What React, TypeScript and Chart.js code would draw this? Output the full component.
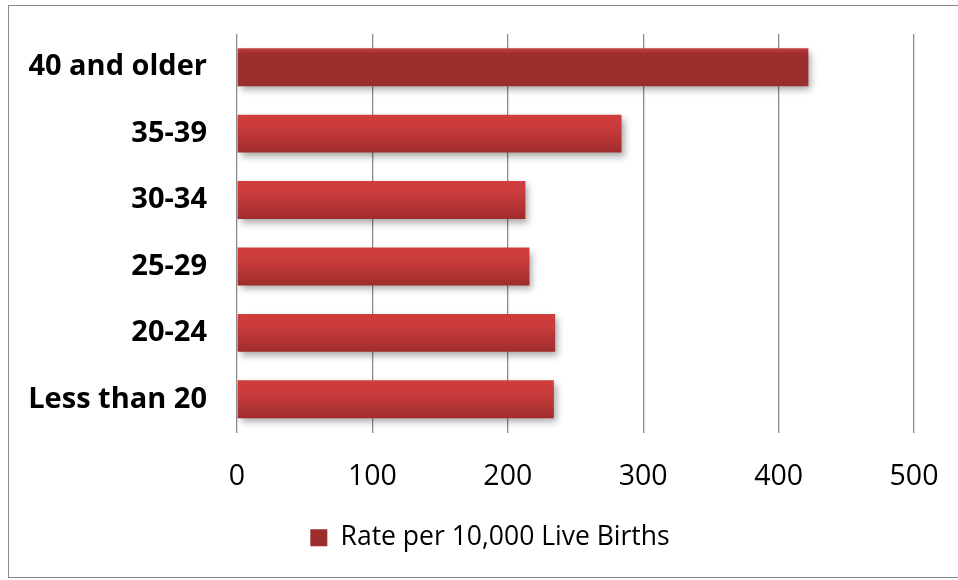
import React, { useEffect, useRef } from "react";
import { Chart, registerables } from "chart.js";

Chart.register(...registerables);

const categories = ["40 and older", "35-39", "30-34", "25-29", "20-24", "Less than 20"];
const rates = [422, 284, 213, 216, 235, 234];
const xTickValues = [0, 100, 200, 300, 400, 500];
const seriesLabel = "Rate per 10,000 Live Births";

const BAR_PCT = 0.57;

const barFill = (ctx: any) => {
  const chart = ctx.chart;
  const i = ctx.dataIndex;
  if (i === undefined || !chart.chartArea || !chart.scales.y) return "#c03a3a";
  const center = chart.scales.y.getPixelForValue(i);
  const half = ((chart.chartArea.bottom - chart.chartArea.top) / categories.length) * BAR_PCT / 2;
  const g = chart.ctx.createLinearGradient(0, center - half, 0, center + half);
  if (i === 0) {
    g.addColorStop(0, "#c84040");
    g.addColorStop(0.14, "#9f2e2e");
    g.addColorStop(1, "#9b2d2d");
  } else {
    g.addColorStop(0, "#d13d3d");
    g.addColorStop(0.35, "#c93b3b");
    g.addColorStop(1, "#a02c2c");
  }
  return g;
};

const shadowPlugin = {
  id: "barShadow",
  beforeDatasetsDraw(chart: any) {
    const c = chart.ctx;
    c.save();
    c.shadowColor = "rgba(0,0,0,0.35)";
    c.shadowBlur = 7;
    c.shadowOffsetX = 3;
    c.shadowOffsetY = 4;
  },
  afterDatasetsDraw(chart: any) {
    chart.ctx.restore();
  },
};

const legendShiftPlugin = {
  id: "legendShift",
  afterLayout(chart: any) {
    const lg = chart.legend;
    if (lg) {
      lg.left += 33;
      lg.right += 33;
    }
  },
};

export default function App() {
  const ref = useRef<HTMLCanvasElement | null>(null);

  useEffect(() => {
    if (!ref.current) return;
    const chart = new Chart(ref.current, {
      type: "bar",
      data: {
        labels: categories,
        datasets: [
          {
            label: seriesLabel,
            data: rates,
            backgroundColor: barFill,
            borderWidth: 0,
            barPercentage: BAR_PCT,
            categoryPercentage: 1,
          },
        ],
      },
      plugins: [shadowPlugin, legendShiftPlugin],
      options: {
        indexAxis: "y",
        animation: false,
        responsive: false,
        maintainAspectRatio: false,
        layout: { padding: { top: 34, right: 44, bottom: 19, left: 0 } },
        scales: {
          x: {
            min: 0,
            max: 500,
            afterBuildTicks: (s: any) => {
              s.ticks = xTickValues.map((v) => ({ value: v }));
            },
            afterFit: (s: any) => {
              s.height = 82;
              s.paddingLeft = 0;
              s.paddingRight = 0;
            },
            grid: { color: "#8a8a8a", lineWidth: 1.3, drawTicks: false },
            border: { display: false },
            ticks: {
              padding: 27,
              color: "#000",
              font: { family: "'Open Sans'", size: 28.5 },
            },
          },
          y: {
            afterFit: (s: any) => {
              s.width = 237;
              s.paddingTop = 0;
              s.paddingBottom = 0;
            },
            grid: { display: false, drawTicks: false },
            border: { display: false },
            ticks: {
              padding: 30,
              color: "#000",
              font: { family: "'Open Sans'", size: 29, weight: "bold" },
            },
          },
        },
        plugins: {
          legend: {
            position: "bottom",
            labels: {
              color: "#000",
              boxWidth: 17,
              boxHeight: 17,
              padding: 10,
              font: { family: "'Open Sans'", size: 26.5 },
            },
          },
          tooltip: { enabled: false },
        },
      },
    } as any);
    return () => chart.destroy();
  }, []);

  return (
    <div style={{ position: "fixed", left: 0, top: 0, width: 958, height: 580, background: "#fff", overflow: "hidden" }}>
      <div
        style={{
          position: "absolute",
          left: 8,
          top: 5,
          width: 970,
          height: 573,
          border: "1px solid #8a8a8a",
          boxSizing: "border-box",
        }}
      />
      <canvas
        ref={ref}
        width={958}
        height={580}
        style={{ position: "absolute", left: 0, top: 0, width: 958, height: 580 }}
      />
    </div>
  );
}
